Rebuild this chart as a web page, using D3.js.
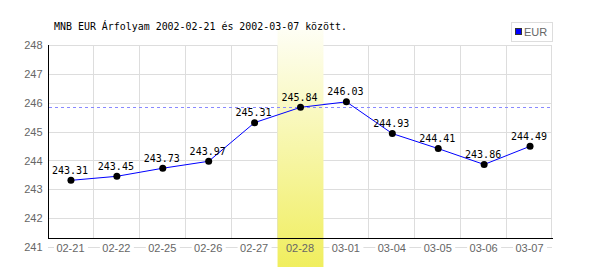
<!DOCTYPE html>
<html>
<head>
<meta charset="utf-8">
<script src="https://cdn.jsdelivr.net/npm/d3@7"></script>
<style>
  body { margin: 0; background: #fff; }
  svg { display: block; }
</style>
</head>
<body>
<div id="chart"></div>
<script>
// data
let dates = ["02-21", "02-22", "02-25", "02-26", "02-27", "02-28", "03-01", "03-04", "03-05", "03-06", "03-07"];
let eurValues = [243.31, 243.45, 243.73, 243.97, 245.31, 245.84, 246.03, 244.93, 244.41, 243.86, 244.49];
let yTicks = [241, 242, 243, 244, 245, 246, 247, 248];
let highlightDate = "02-28";
let titleText = "MNB EUR Árfolyam 2002-02-21 és 2002-03-07 között.";
let seriesName = "EUR";

let svg = d3.select("#chart").append("svg")
    .attr("width", 600)
    .attr("height", 270);

let plotLeft = 48, plotRight = 553, plotTop = 45, axisY = 238;

let xScale = d3.scaleBand()
    .domain(dates)
    .range([plotLeft, plotRight]);

let yScale = d3.scaleLinear()
    .domain([241, 248])
    .range([247, plotTop]);

let gridColor = "#dddddd";
let labelFont = "'Liberation Sans', Arial, sans-serif";
let monoFont = "'DejaVu Sans Mono', monospace";

// horizontal grid
svg.append("g").selectAll("line")
    .data(yTicks)
    .enter()
    .append("line")
    .attr("x1", plotLeft)
    .attr("x2", plotRight - 1)
    .attr("y1", function(d) { return Math.round(yScale(d)) + 0.5; })
    .attr("y2", function(d) { return Math.round(yScale(d)) + 0.5; })
    .attr("stroke", gridColor);

// vertical grid at band edges
let edges = dates.map(function(d) { return xScale(d); }).slice(1);
edges.push(plotRight - 1);
svg.append("g").selectAll("line")
    .data(edges)
    .enter()
    .append("line")
    .attr("x1", function(d) { return Math.round(d) - 0.5; })
    .attr("x2", function(d) { return Math.round(d) - 0.5; })
    .attr("y1", plotTop)
    .attr("y2", axisY)
    .attr("stroke", gridColor);

// white boxes behind x labels (they sit on the 241 grid line)
svg.append("g").selectAll("rect")
    .data(dates)
    .enter()
    .append("rect")
    .attr("x", function(d) { return xScale(d) + xScale.bandwidth() / 2 - 17; })
    .attr("y", yScale(241) - 5)
    .attr("width", 34)
    .attr("height", 10)
    .attr("fill", "#fff");

// highlighted day
let grad = svg.append("defs").append("linearGradient")
    .attr("id", "hl")
    .attr("x1", 0).attr("y1", 0).attr("x2", 0).attr("y2", 1);
grad.append("stop").attr("offset", "0%").attr("stop-color", "#fefef4");
grad.append("stop").attr("offset", "100%").attr("stop-color", "#f0ee5e");

svg.append("rect")
    .attr("x", xScale(highlightDate))
    .attr("y", 30)
    .attr("width", xScale.bandwidth())
    .attr("height", 237)
    .attr("fill", "url(#hl)");

// axes lines
svg.append("line")
    .attr("x1", plotLeft + 0.5).attr("x2", plotLeft + 0.5)
    .attr("y1", plotTop).attr("y2", axisY + 0.5)
    .attr("stroke", "#000");
svg.append("line")
    .attr("x1", plotLeft).attr("x2", plotRight)
    .attr("y1", axisY + 0.5).attr("y2", axisY + 0.5)
    .attr("stroke", "#000");

// y labels
svg.append("g").selectAll("text")
    .data(yTicks)
    .enter()
    .append("text")
    .attr("x", 42.5)
    .attr("y", function(d) { return yScale(d); })
    .attr("dy", "0.38em")
    .attr("text-anchor", "end")
    .attr("font-family", labelFont)
    .attr("font-size", 11)
    .attr("fill", "#666")
    .text(function(d) { return d; });

// x labels
svg.append("g").selectAll("text")
    .data(dates)
    .enter()
    .append("text")
    .attr("x", function(d) { return xScale(d) + xScale.bandwidth() / 2 - 0.5; })
    .attr("y", yScale(241) + 1)
    .attr("dy", "0.36em")
    .attr("text-anchor", "middle")
    .attr("font-family", labelFont)
    .attr("font-size", 11)
    .attr("fill", "#666")
    .text(function(d) { return d; });

// reference line at the highlighted value
let hlValue = eurValues[dates.indexOf(highlightDate)];
svg.append("line")
    .attr("x1", plotLeft + 1).attr("x2", plotRight - 1)
    .attr("y1", Math.round(yScale(hlValue)) + 0.5)
    .attr("y2", Math.round(yScale(hlValue)) + 0.5)
    .attr("stroke", "#8888ff")
    .attr("stroke-dasharray", "3,3");

// series
let cx = function(d, i) { return xScale(dates[i]) + xScale.bandwidth() / 2; };
let line = d3.line()
    .x(function(d, i) { return cx(d, i); })
    .y(function(d) { return yScale(d); });

svg.append("path")
    .datum(eurValues)
    .attr("d", line)
    .attr("fill", "none")
    .attr("stroke", "#0000ff")
    .attr("stroke-width", 1);

svg.append("g").selectAll("circle")
    .data(eurValues)
    .enter()
    .append("circle")
    .attr("cx", cx)
    .attr("cy", function(d) { return yScale(d); })
    .attr("r", 3.5)
    .attr("fill", "#000");

svg.append("g").selectAll("text")
    .data(eurValues)
    .enter()
    .append("text")
    .attr("x", function(d, i) { return cx(d, i) - 1; })
    .attr("y", function(d) { return yScale(d) - 6.5; })
    .attr("text-anchor", "middle")
    .attr("font-family", monoFont)
    .attr("font-size", 10)
    .attr("fill", "#000")
    .text(function(d) { return d.toFixed(2); });

// title
svg.append("text")
    .attr("x", 54)
    .attr("y", 29.5)
    .attr("font-family", monoFont)
    .attr("font-size", 10.5)
    .attr("textLength", 293)
    .attr("lengthAdjust", "spacingAndGlyphs")
    .attr("fill", "#000")
    .text(titleText);

// legend
let legend = svg.append("g");
legend.append("rect")
    .attr("x", 511.5).attr("y", 22.5)
    .attr("width", 41).attr("height", 19)
    .attr("fill", "#fff")
    .attr("stroke", "#dddddd");
legend.append("rect")
    .attr("x", 515.5).attr("y", 28.5)
    .attr("width", 6).attr("height", 6)
    .attr("fill", "#0000ff")
    .attr("stroke", "#333");
legend.append("text")
    .attr("x", 524)
    .attr("y", 36)
    .attr("font-family", labelFont)
    .attr("font-size", 11)
    .attr("fill", "#666")
    .text(seriesName);
</script>
</body>
</html>
